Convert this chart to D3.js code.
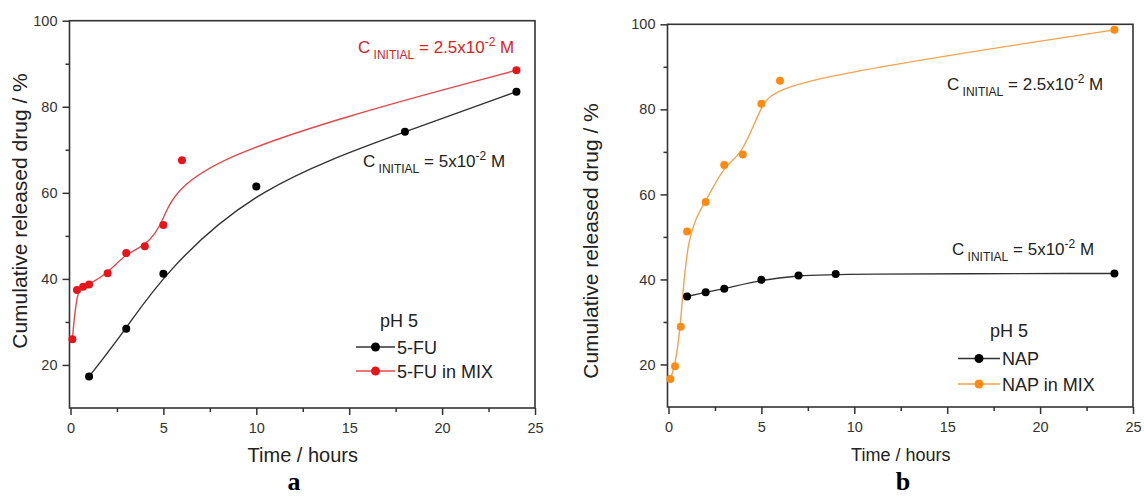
<!DOCTYPE html>
<html>
<head>
<meta charset="utf-8">
<script src="https://cdn.jsdelivr.net/npm/d3@7"></script>
<style>
  html, body { margin: 0; padding: 0; background: #fff; }
  svg { display: block; font-family: "Liberation Sans", Arial, sans-serif; }
</style>
</head>
<body>
<svg id="chart" width="1144" height="496"></svg>
<script>
// --- Data ---
const xTicks = [0, 5, 10, 15, 20, 25];
const yTicks = [20, 40, 60, 80, 100];

// panel a: 5-FU
const fuTime = [1, 3, 5, 10, 18, 24];
const fuVal = [17.3, 28.4, 41.2, 61.5, 74.2, 83.5];
const fuMixTime = [0.1, 0.35, 0.68, 1, 2, 3, 4, 5, 6, 24];
const fuMixVal = [26.0, 37.4, 38.2, 38.7, 41.3, 46.0, 47.6, 52.5, 67.6, 88.5];

// panel b: NAP
const napTime = [1, 2, 3, 5, 7, 9, 24];
const napVal = [36.0, 37.0, 37.8, 39.9, 40.9, 41.3, 41.4];
const napMixTime = [0.1, 0.35, 0.66, 1, 2, 3, 4, 5, 6, 24];
const napMixVal = [16.6, 19.6, 28.9, 51.3, 58.2, 66.9, 69.4, 81.3, 86.7, 98.7];

const svg = d3.select("#chart");
const axisColor = "#333";

const zip = (xs, ys) => xs.map((x, i) => ({ x, y: ys[i] }));

// C INITIAL = ...x10^-2 M label
function concLabel(g, x, y, value, color) {
    const t = g.append("text").attr("x", x).attr("y", y)
        .attr("fill", color).style("font-size", "17px");
    t.append("tspan").text("C");
    t.append("tspan").attr("dy", 6).style("font-size", "12px").text(" INITIAL");
    t.append("tspan").attr("dy", -6).text(" = " + value + "x10");
    t.append("tspan").attr("dy", -7).style("font-size", "12px").text("-2");
    t.append("tspan").attr("dy", 7).text(" M");
}

function drawPanel(p) {
    const x = d3.scaleLinear().domain([0, 25]).range([p.left, p.right]);
    const y = d3.scaleLinear().domain([10, 100]).range([p.bottom, p.top]);
    const g = svg.append("g");

    // frame
    g.append("rect")
        .attr("x", p.left - 1).attr("y", p.top)
        .attr("width", p.right - p.left + 1).attr("height", p.bottom - p.top)
        .attr("fill", "none").attr("stroke", axisColor).attr("stroke-width", 1.6);

    // minor ticks
    g.append("g").attr("transform", `translate(0,${p.bottom})`)
        .call(d3.axisBottom(x).tickValues(d3.range(2.5, 25, 5)).tickSize(4).tickFormat(""))
        .call(a => a.select(".domain").remove());
    g.append("g").attr("transform", `translate(${p.left - 1},0)`)
        .call(d3.axisLeft(y).tickValues([30, 50, 70, 90]).tickSize(4).tickFormat(""))
        .call(a => a.select(".domain").remove());

    // major ticks
    const xa = g.append("g").attr("transform", `translate(0,${p.bottom})`)
        .call(d3.axisBottom(x).tickValues(xTicks).tickSize(7).tickPadding(8).tickSizeOuter(0));
    const ya = g.append("g").attr("transform", `translate(${p.left - 1},0)`)
        .call(d3.axisLeft(y).tickValues(yTicks).tickSize(7).tickPadding(5).tickSizeOuter(0));
    [xa, ya].forEach(a => {
        a.select(".domain").remove();
        a.selectAll("text").style("font-size", "14.5px").attr("fill", axisColor)
            .style("font-family", "'Liberation Sans', Arial, sans-serif");
    });
    g.selectAll(".tick line").attr("stroke", axisColor).attr("stroke-width", 1.5);

    // axis titles
    g.append("text").attr("x", (p.left + p.right) / 2).attr("y", p.xTitleY)
        .attr("text-anchor", "middle").attr("fill", "#222")
        .style("font-size", p.xTitleSize + "px").text("Time / hours");
    g.append("text")
        .attr("transform", `translate(${p.yTitleX},${p.yTitleY}) rotate(-90)`)
        .attr("text-anchor", "middle").attr("fill", "#222")
        .style("font-size", "21px").text("Cumulative released drug / %");

    // panel letter
    g.append("text").attr("x", p.letterX).attr("y", 490)
        .attr("text-anchor", "middle")
        .style("font-family", "'Liberation Serif', 'Times New Roman', serif")
        .style("font-weight", "bold").style("font-size", "26px").text(p.letter);

    // series
    const line = d3.line().x(d => x(d.x)).y(d => y(d.y)).curve(d3.curveBasis);
    p.series.forEach(s => {
        g.append("path").datum(s.data)
            .attr("d", line).attr("fill", "none")
            .attr("stroke", s.lineColor).attr("stroke-width", 1.4);
    });
    p.series.forEach(s => {
        g.append("g").selectAll("circle").data(s.data).enter().append("circle")
            .attr("cx", d => x(d.x)).attr("cy", d => y(d.y)).attr("r", 4)
            .attr("fill", s.color);
    });

    // annotations
    p.notes.forEach(n => concLabel(g, n.x, n.y, n.value, n.color));

    // legend
    const lg = g.append("g");
    lg.append("text").attr("x", p.legend.phX).attr("y", p.legend.phY)
        .attr("fill", "#222").style("font-size", "18px").text("pH 5");
    p.series.forEach((s, i) => {
        const cy = p.legend.y0 + i * p.legend.dy;
        lg.append("line").attr("x1", p.legend.x1).attr("x2", p.legend.x2)
            .attr("y1", cy).attr("y2", cy)
            .attr("stroke", s.lineColor).attr("stroke-width", 1.4);
        lg.append("circle").attr("cx", (p.legend.x1 + p.legend.x2) / 2).attr("cy", cy)
            .attr("r", 4.5).attr("fill", s.color);
        lg.append("text").attr("x", p.legend.x2 + 2).attr("y", cy + 6.5)
            .attr("fill", "#222").style("font-size", "18px").text(s.name);
    });
}

drawPanel({
    left: 70.5, right: 535, top: 20.7, bottom: 408,
    xTitleY: 462, xTitleSize: 20, yTitleX: 27, yTitleY: 211,
    letter: "a", letterX: 294,
    series: [
        { name: "5-FU", data: zip(fuTime, fuVal), color: "#000", lineColor: "#333" },
        { name: "5-FU in MIX", data: zip(fuMixTime, fuMixVal), color: "#e8141b", lineColor: "#e5484c" }
    ],
    notes: [
        { x: 358, y: 53, value: "2.5", color: "#e0201e" },
        { x: 363, y: 166.5, value: "5", color: "#222" }
    ],
    legend: { phX: 380, phY: 326.5, x1: 356, x2: 395, y0: 347, dy: 24 }
});

drawPanel({
    left: 668.5, right: 1133, top: 24.3, bottom: 407,
    xTitleY: 461, xTitleSize: 18, yTitleX: 598, yTitleY: 241,
    letter: "b", letterX: 903,
    series: [
        { name: "NAP", data: zip(napTime, napVal), color: "#000", lineColor: "#333" },
        { name: "NAP in MIX", data: zip(napMixTime, napMixVal), color: "#ff8a12", lineColor: "#f6a24e" }
    ],
    notes: [
        { x: 947, y: 90, value: "2.5", color: "#222" },
        { x: 952, y: 254.5, value: "5", color: "#222" }
    ],
    legend: { phX: 990, phY: 336.5, x1: 958, x2: 1000, y0: 358.5, dy: 25.5 }
});
</script>
</body>
</html>
